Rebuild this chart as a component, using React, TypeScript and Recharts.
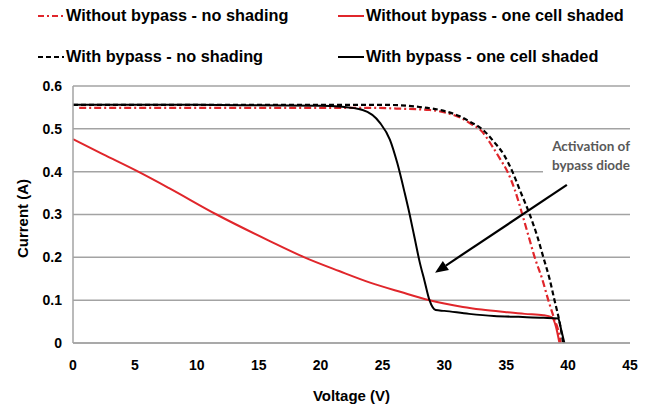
import React from "react";
import { LineChart, Line, XAxis, YAxis, CartesianGrid, ReferenceLine } from "recharts";

document.body.style.margin = "0";

// voltage (V) / current (A)
const noBypassNoShadeV = [0.5, 5, 10, 15, 20, 24, 26.5, 28.8, 30.2, 31.3, 32.3, 32.9, 33.9, 34.5, 35.1, 35.7, 36.3, 36.8, 37.3, 37.9, 38.4, 38.9, 39.2, 39.4];
const noBypassNoShadeI = [0.549, 0.549, 0.549, 0.549, 0.549, 0.549, 0.547, 0.544, 0.537, 0.526, 0.509, 0.498, 0.458, 0.43, 0.4, 0.357, 0.3, 0.25, 0.2, 0.15, 0.1, 0.055, 0.03, 0];

const noBypassShadedV = [0, 2.4, 5.27, 7.8, 11.6, 15.9, 18.7, 21.5, 24, 26.5, 28.8, 30, 31.5, 33, 35, 36.5, 38, 38.7, 39.0, 39.3];
const noBypassShadedI = [0.476, 0.441, 0.4, 0.361, 0.3, 0.238, 0.2, 0.168, 0.141, 0.119, 0.1, 0.092, 0.084, 0.078, 0.072, 0.068, 0.065, 0.06, 0.04, 0];

const bypassNoShadeV = [0, 5, 10, 15, 20, 25, 28, 30.2, 31.2, 32.1, 33.1, 34.0, 34.8, 35.5, 36.1, 36.9, 37.5, 38.0, 38.5, 38.9, 39.3, 39.6];
const bypassNoShadeI = [0.556, 0.556, 0.556, 0.556, 0.556, 0.556, 0.551, 0.54, 0.53, 0.516, 0.498, 0.47, 0.44, 0.4, 0.357, 0.3, 0.25, 0.2, 0.15, 0.1, 0.05, 0];

const bypassShadedV = [0, 5, 10, 15, 20, 21.5, 23.4, 24.8, 25.6, 26.2, 26.8, 27.2, 27.6, 28.0, 28.4, 28.8, 29.3, 30, 32, 34, 36, 38, 39.2, 39.45, 39.7];
const bypassShadedI = [0.556, 0.556, 0.556, 0.555, 0.554, 0.552, 0.544, 0.514, 0.475, 0.42, 0.35, 0.3, 0.245, 0.19, 0.145, 0.1, 0.077, 0.075, 0.068, 0.063, 0.061, 0.059, 0.057, 0.03, 0];

const xTicks = [0, 5, 10, 15, 20, 25, 30, 35, 40, 45];
const yTicks = [0, 0.1, 0.2, 0.3, 0.4, 0.5, 0.6];

// arrow pointing at the knee of the bypass curve
const arrowFrom = { v: 39.9, i: 0.369 };
const arrowTo = { v: 29.25, i: 0.164 };

const toPoints = (vs: number[], is: number[]) => vs.map((v, k) => ({ v, i: is[k] }));

const RED = "#e0262b";
const GRID = "#a3a3a3";
const FONT = "'Liberation Sans', Arial, sans-serif";

const Arrow = (props: any) => {
  const { x1, y1, x2, y2 } = props;
  const ang = Math.atan2(y2 - y1, x2 - x1);
  const len = 13;
  const half = 5.5;
  const bx = x2 - len * Math.cos(ang);
  const by = y2 - len * Math.sin(ang);
  const px = -Math.sin(ang) * half;
  const py = Math.cos(ang) * half;
  return (
    <g>
      <line x1={x1} y1={y1} x2={bx} y2={by} stroke="#000" strokeWidth={2.2} />
      <polygon points={`${x2},${y2} ${bx + px},${by + py} ${bx - px},${by - py}`} fill="#000" />
    </g>
  );
};

const LegendItem = ({ color, dash, label, left, top }: { color: string; dash?: string; label: string; left: number; top: number }) => (
  <div style={{ position: "absolute", left, top, display: "flex", alignItems: "center", whiteSpace: "nowrap" }}>
    <svg width={26} height={10} style={{ marginRight: 2 }}>
      <line x1={0} y1={5} x2={26} y2={5} stroke={color} strokeWidth={2} strokeDasharray={dash} />
    </svg>
    <span style={{ fontFamily: FONT, fontWeight: 700, fontSize: 16.3, color: "#000" }}>{label}</span>
  </div>
);

export default function App() {
  return (
    <div style={{ position: "relative", width: 652, height: 406, background: "#fff" }}>
      <LegendItem color={RED} dash="6 3 2 3" label="Without bypass - no shading" left={38} top={6} />
      <LegendItem color={RED} label="Without bypass - one cell shaded" left={338} top={6} />
      <LegendItem color="#000" dash="5 3" label="With bypass - no shading" left={38} top={47} />
      <LegendItem color="#000" label="With bypass - one cell shaded" left={338} top={47} />

      <div style={{ position: "absolute", left: 0, top: 0 }}>
        <LineChart width={652} height={406} margin={{ top: 86, right: 22, left: 0, bottom: 0 }}>
          <CartesianGrid vertical={false} stroke={GRID} strokeWidth={1.5} />
          <XAxis
            type="number"
            dataKey="v"
            domain={[0, 45]}
            ticks={xTicks}
            height={63}
            axisLine={{ stroke: GRID, strokeWidth: 1.5 }}
            tickLine={false}
            tickMargin={11}
            tick={{ fill: "#000", fontSize: 14, fontWeight: 700, fontFamily: FONT }}
            label={{ value: "Voltage (V)", position: "insideBottom", offset: 5, fill: "#000", fontSize: 15, fontWeight: 700, fontFamily: FONT }}
          />
          <YAxis
            type="number"
            domain={[0, 0.6]}
            ticks={yTicks}
            width={73}
            axisLine={{ stroke: GRID, strokeWidth: 1.5 }}
            tickLine={false}
            tickMargin={5}
            tickFormatter={(t: number) => (t === 0 ? "0" : t.toFixed(1))}
            tick={{ fill: "#000", fontSize: 14, fontWeight: 700, fontFamily: FONT }}
            label={{
              content: ({ viewBox }: any) => {
                const cx = 22;
                const cy = viewBox.y + viewBox.height / 2 + 4;
                return (
                  <text x={cx} y={cy} transform={`rotate(-90 ${cx} ${cy})`} textAnchor="middle" dominantBaseline="central" fill="#000" fontSize={15} fontWeight={700} fontFamily={FONT}>
                    Current (A)
                  </text>
                );
              },
            }}
          />
          <Line data={toPoints(noBypassShadedV, noBypassShadedI)} dataKey="i" type="monotone" stroke={RED} strokeWidth={2} dot={false} isAnimationActive={false} />
          <Line data={toPoints(noBypassNoShadeV, noBypassNoShadeI)} dataKey="i" type="monotone" stroke={RED} strokeWidth={2.2} strokeDasharray="7 3 2 3" dot={false} isAnimationActive={false} />
          <Line data={toPoints(bypassNoShadeV, bypassNoShadeI)} dataKey="i" type="monotone" stroke="#000" strokeWidth={2.2} strokeDasharray="5 3" dot={false} isAnimationActive={false} />
          <Line data={toPoints(bypassShadedV, bypassShadedI)} dataKey="i" type="monotone" stroke="#000" strokeWidth={2} dot={false} isAnimationActive={false} />
          <ReferenceLine
            segment={[{ x: arrowFrom.v, y: arrowFrom.i }, { x: arrowTo.v, y: arrowTo.i }]}
            shape={Arrow}
            ifOverflow="visible"
          />
        </LineChart>
      </div>

      <div
        style={{
          position: "absolute",
          left: 543,
          top: 137,
          width: 100,
          height: 44,
          background: "#fff",
          fontFamily: "Lato, 'Open Sans', sans-serif",
          fontWeight: 700,
          fontSize: 13.5,
          lineHeight: "19px",
          color: "#595959",
          textAlign: "right",
          paddingRight: 13,
          boxSizing: "border-box",
        }}
      >
        Activation of
        <br />
        bypass diode
      </div>
    </div>
  );
}
